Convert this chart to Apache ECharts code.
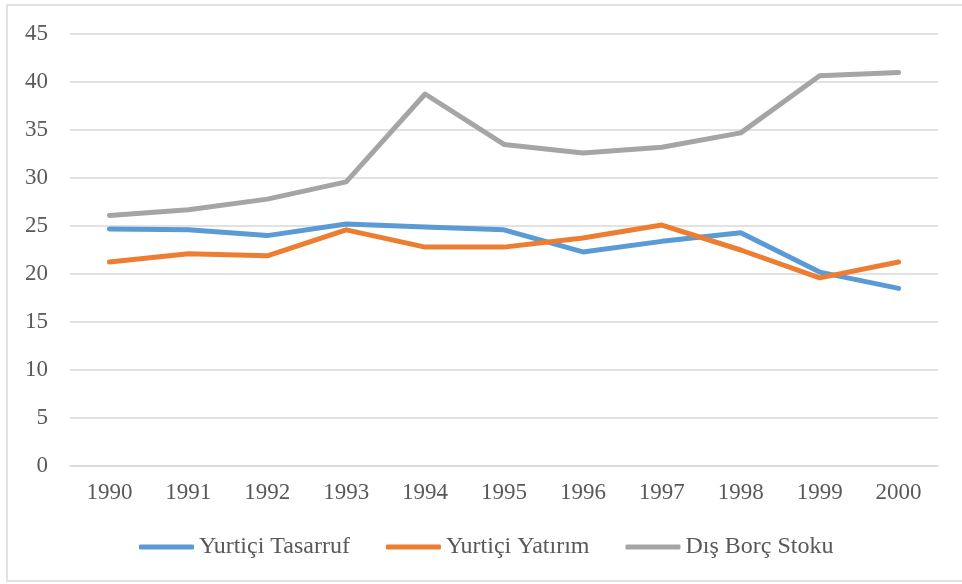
<!DOCTYPE html>
<html>
<head>
<meta charset="utf-8">
<script src="https://cdn.jsdelivr.net/npm/echarts@6/dist/echarts.min.js"></script>
<style>
  html, body { margin: 0; padding: 0; background: #fff; }
  #chart { width: 962px; height: 584px; }
</style>
</head>
<body>
<div id="chart"></div>
<script>
const years = ['1990', '1991', '1992', '1993', '1994', '1995', '1996', '1997', '1998', '1999', '2000'];
const yurticiTasarruf = [24.7, 24.6, 24.0, 25.2, 24.9, 24.6, 22.3, 23.4, 24.3, 20.2, 18.5];
const yurticiYatirim = [21.25, 22.1, 21.9, 24.6, 22.8, 22.8, 23.75, 25.1, 22.5, 19.6, 21.25];
const disBorcStoku = [26.1, 26.7, 27.8, 29.6, 38.75, 33.5, 32.6, 33.2, 34.7, 40.65, 41.0];

const font = '"Liberation Serif", "Times New Roman", serif';
const chart = echarts.init(document.getElementById('chart'));

const line = (name, data, color) => ({
  name: name,
  type: 'line',
  data: data,
  symbol: 'none',
  lineStyle: { width: 5, color: color, cap: 'round', join: 'round' },
  itemStyle: { color: color },
});

const option = {
  animation: false,
  textStyle: { fontFamily: font },
  graphic: [{
    type: 'rect',
    shape: { x: 7, y: 5, width: 980, height: 576 },
    style: { fill: 'none', stroke: '#d9d9d9', lineWidth: 1.5 },
    silent: true,
  }],
  grid: { left: 70, right: 24, top: 34, bottom: 118 },
  legend: {
    top: 530,
    left: 134,
    icon: 'roundRect',
    itemWidth: 55,
    itemHeight: 5,
    itemGap: 36,
    textStyle: { fontFamily: font, fontSize: 24, color: '#595959' },
    data: ['Yurtiçi Tasarruf', 'Yurtiçi Yatırım', 'Dış Borç Stoku'],
  },
  xAxis: {
    type: 'category',
    data: years,
    boundaryGap: true,
    axisLine: { lineStyle: { color: '#d9d9d9', width: 1.5 } },
    axisTick: { show: false },
    axisLabel: { fontFamily: font, fontSize: 23, color: '#595959', margin: 15 },
  },
  yAxis: {
    type: 'value',
    min: 0,
    max: 45,
    interval: 5,
    axisLine: { show: false },
    axisTick: { show: false },
    axisLabel: { fontFamily: font, fontSize: 23, color: '#595959', margin: 22 },
    splitLine: { lineStyle: { color: '#d9d9d9', width: 1.5 } },
  },
  series: [
    line('Yurtiçi Tasarruf', yurticiTasarruf, '#5B9BD5'),
    line('Yurtiçi Yatırım', yurticiYatirim, '#ED7D31'),
    line('Dış Borç Stoku', disBorcStoku, '#A5A5A5'),
  ],
};

chart.setOption(option);
</script>
</body>
</html>
